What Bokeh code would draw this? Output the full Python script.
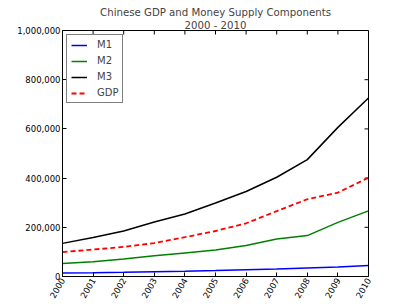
import math
from bokeh.plotting import figure
from bokeh.models import LinearAxis, NumeralTickFormatter, FixedTicker, Range1d, Legend, LegendItem, Title
from bokeh.embed import file_html
from bokeh.resources import INLINE

years = [2000, 2001, 2002, 2003, 2004, 2005, 2006, 2007, 2008, 2009, 2010]
m1 = [14653, 15689, 17278, 19746, 21468, 24032, 27073, 30375, 34219, 38246, 44628]
m2 = [53147, 59872, 70882, 84119, 95970, 107279, 126035, 152560, 166217, 220002, 266622]
m3 = [134610, 158302, 185007, 221223, 254107, 298756, 345604, 403442, 475167, 606225, 725852]
gdp = [99215, 109655, 120333, 135823, 159878, 184937, 216314, 265810, 314045, 340903, 401513]
y_ticks = [0, 200000, 400000, 600000, 800000, 1000000]
title_main = "Chinese GDP and Money Supply Components"
title_sub = "2000 - 2010"

FONT = "DejaVu Sans"
X_MIN, X_MAX = years[0], years[-1]
Y_MIN, Y_MAX = y_ticks[0], y_ticks[-1]

p = figure(width=406, height=305, output_backend="svg", toolbar_location=None,
           x_range=Range1d(X_MIN, X_MAX), y_range=Range1d(Y_MIN, Y_MAX),
           min_border_left=62, min_border_right=38, min_border_top=30, min_border_bottom=29,
           x_axis_location=None, y_axis_location=None, title=None)
p.xgrid.visible = False
p.ygrid.visible = False
p.outline_line_color = "black"
p.outline_line_width = 1
p.background_fill_color = "white"
p.border_fill_color = "white"

def mk_axis():
    a = LinearAxis()
    a.major_tick_in = 4
    a.major_tick_out = 0
    a.minor_tick_in = 0
    a.minor_tick_out = 0
    a.axis_line_color = "black"
    a.major_tick_line_color = "black"
    a.major_label_text_font = FONT
    a.major_label_text_font_size = "8.5px"
    a.major_label_text_color = "black"
    return a

xb = mk_axis()
xb.ticker = FixedTicker(ticks=years)
xb.major_label_orientation = math.pi / 3
xb.major_label_standoff = 2
yl = mk_axis()
yl.ticker = FixedTicker(ticks=y_ticks)
yl.formatter = NumeralTickFormatter(format="0,0")
yl.major_label_standoff = 2
p.add_layout(xb, "below")
p.add_layout(yl, "left")

# mirrored inward ticks on the top and right edges (matplotlib style)
p.ray(x=years, y=[Y_MAX] * len(years), length=4, angle=-math.pi / 2,
      length_units="screen", line_color="black", line_width=1)
p.ray(x=[X_MAX] * len(y_ticks), y=y_ticks, length=4, angle=math.pi,
      length_units="screen", line_color="black", line_width=1)

t_sub = Title(text=title_sub, align="center", text_font=FONT, text_font_style="normal",
              text_font_size="10.2px", standoff=0, offset=0)
t_main = Title(text=title_main, align="center", text_font=FONT, text_font_style="normal",
               text_font_size="10.2px", standoff=0, offset=0)
p.add_layout(t_sub, "above")
p.add_layout(t_main, "above")

r1 = p.line(years, m1, line_color="#0000ff", line_width=1.5)
r2 = p.line(years, m2, line_color="#008000", line_width=1.5)
r3 = p.line(years, m3, line_color="#000000", line_width=1.5)
r4 = p.line(years, gdp, line_color="#ff0000", line_width=1.8, line_dash="5 3")

legend = Legend(items=[LegendItem(label="M1", renderers=[r1]),
                       LegendItem(label="M2", renderers=[r2]),
                       LegendItem(label="M3", renderers=[r3]),
                       LegendItem(label="GDP", renderers=[r4])],
                location="top_left")
legend.margin = 4
legend.padding = 4
legend.spacing = 5
legend.glyph_height = 10
legend.label_height = 10
legend.glyph_width = 16
legend.label_standoff = 10
legend.label_text_font = FONT
legend.label_text_font_size = "10px"
legend.border_line_color = "black"
legend.border_line_width = 1
legend.background_fill_alpha = 1
p.add_layout(legend, "center")

open("out.html", "w").write(file_html(p, INLINE))
